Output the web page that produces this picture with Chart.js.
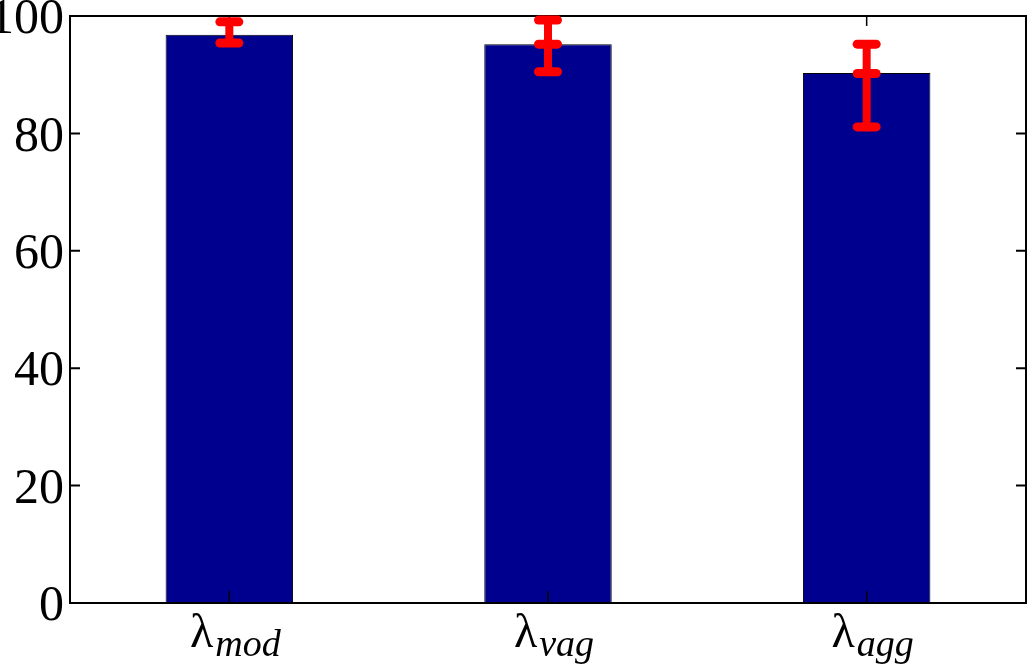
<!DOCTYPE html>
<html>
<head>
<meta charset="utf-8">
<script src="https://cdn.jsdelivr.net/npm/chart.js@4/dist/chart.umd.min.js"></script>
<style>
  html, body { margin: 0; padding: 0; background: #fff; }
  #wrap { width: 1033px; height: 668px; }
</style>
</head>
<body>
<div id="wrap"><canvas id="c" width="1033" height="668"></canvas></div>
<script>
// ---- data ----
const categories = ['mod', 'vag', 'agg'];
const labelSymbol = 'λ';
const values = [96.8, 95.2, 90.3];
const errHigh = [99.0, 99.3, 95.2];
const errLow = [95.4, 90.5, 81.1];
const errMid = [null, 95.2, 90.2];
const yTicks = [0, 20, 40, 60, 80, 100];

const SERIF = '"Liberation Serif", "Times New Roman", serif';

const overlay = {
  id: 'overlay',
  afterDraw(chart) {
    const ctx = chart.ctx;
    const a = chart.chartArea;
    const xs = chart.scales.x, ys = chart.scales.y;
    ctx.save();
    // frame
    ctx.strokeStyle = '#000';
    ctx.lineWidth = 2;
    ctx.strokeRect(a.left, a.top, a.right - a.left, a.bottom - a.top);
    // y ticks (inside, both sides)
    yTicks.forEach(v => {
      const y = ys.getPixelForValue(v);
      ctx.beginPath();
      ctx.moveTo(a.left, y); ctx.lineTo(a.left + 10, y);
      ctx.moveTo(a.right, y); ctx.lineTo(a.right - 10, y);
      ctx.stroke();
    });
    // x ticks (inside, bottom and top)
    ctx.lineWidth = 1.5;
    categories.forEach((c, i) => {
      const x = xs.getPixelForValue(i);
      ctx.beginPath();
      ctx.moveTo(x, a.bottom); ctx.lineTo(x, a.bottom - 12);
      ctx.moveTo(x, a.top); ctx.lineTo(x, a.top + 10);
      ctx.stroke();
    });
    // error bars
    ctx.strokeStyle = '#ff0000';
    ctx.lineCap = 'round';
    categories.forEach((c, i) => {
      const x = xs.getPixelForValue(i);
      const yh = ys.getPixelForValue(errHigh[i]);
      const yl = ys.getPixelForValue(errLow[i]);
      ctx.lineWidth = 8;
      ctx.beginPath();
      ctx.moveTo(x, yh); ctx.lineTo(x, yl);
      ctx.stroke();
      ctx.lineWidth = 9;
      const caps = [errHigh[i], errLow[i]];
      if (errMid[i] !== null) caps.push(errMid[i]);
      caps.forEach(v => {
        const y = ys.getPixelForValue(v);
        ctx.beginPath();
        ctx.moveTo(x - 9.5, y); ctx.lineTo(x + 9.5, y);
        ctx.stroke();
      });
    });
    // x labels: λ with italic subscript
    ctx.fillStyle = '#000';
    ctx.textBaseline = 'alphabetic';
    ctx.textAlign = 'left';
    categories.forEach((c, i) => {
      const x = xs.getPixelForValue(i);
      ctx.font = '48px ' + SERIF;
      const w1 = ctx.measureText(labelSymbol).width;
      ctx.font = 'italic 38px ' + SERIF;
      const w2 = ctx.measureText(c).width;
      const start = x + 6 - (w1 + 2 + w2) / 2;
      ctx.font = '48px ' + SERIF;
      ctx.fillText(labelSymbol, start, 647);
      ctx.font = 'italic 38px ' + SERIF;
      ctx.fillText(c, start + w1 + 2, 656);
    });
    ctx.restore();
  }
};

new Chart(document.getElementById('c'), {
  type: 'bar',
  data: {
    labels: categories.map(c => labelSymbol + c),
    datasets: [{
      data: values,
      backgroundColor: 'rgb(0,0,143)',
      borderColor: '#000',
      borderWidth: 1,
      borderSkipped: false,
      categoryPercentage: 1.0,
      barPercentage: 0.4
    }]
  },
  options: {
    responsive: false,
    devicePixelRatio: 1,
    animation: false,
    layout: { padding: { top: 16, right: 7, left: 0, bottom: 0 } },
    plugins: { legend: { display: false }, tooltip: { enabled: false } },
    scales: {
      x: {
        offset: true,
        grid: { display: false, drawTicks: false },
        border: { display: false },
        ticks: { display: false },
        afterFit(s) { s.height = 65; s.paddingLeft = 0; s.paddingRight = 0; }
      },
      y: {
        min: 0, max: 100,
        grid: { display: false, drawTicks: false },
        border: { display: false },
        afterBuildTicks(s) { s.ticks = yTicks.map(v => ({ value: v })); },
        ticks: {
          padding: 6,
          labelOffset: 4,
          color: '#000',
          font: { family: SERIF, size: 50 }
        },
        afterFit(s) { s.width = 70; s.paddingTop = 0; s.paddingBottom = 0; }
      }
    }
  },
  plugins: [overlay]
});
</script>
</body>
</html>
